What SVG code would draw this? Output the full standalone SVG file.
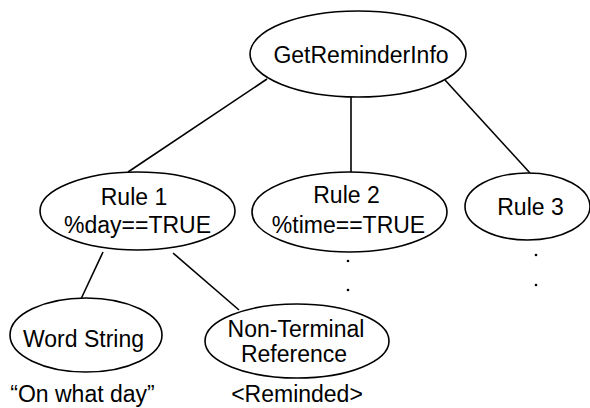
<svg xmlns="http://www.w3.org/2000/svg" width="590" height="408" viewBox="0 0 590 408">
<style>
.n{fill:#fff;stroke:#000;stroke-width:1.6}
.c line{stroke:#000;stroke-width:1.6}
text{font-family:"Liberation Sans",Arial,sans-serif;font-size:23px;fill:#000;text-anchor:middle}
.dot{fill:#000}
</style>
<rect width="590" height="408" fill="#fff"/>
<g id="connectors" class="c">
<line x1="267" y1="79" x2="128" y2="172"/>
<line x1="351" y1="97" x2="351" y2="172"/>
<line x1="445" y1="80" x2="530" y2="173"/>
<line x1="103" y1="252" x2="81" y2="299"/>
<line x1="173" y1="253" x2="239" y2="310"/>
</g>
<g id="getreminderinfo">
<ellipse class="n" cx="358" cy="54" rx="108" ry="43"/>
<text x="361" y="63">GetReminderInfo</text>
</g>
<g id="rule1">
<ellipse class="n" cx="137.5" cy="211" rx="97.5" ry="39"/>
<text x="134" y="205">Rule 1</text>
<text x="137.5" y="233">%day==TRUE</text>
</g>
<g id="rule2">
<ellipse class="n" cx="349.5" cy="212" rx="97.5" ry="40"/>
<text x="346.5" y="203">Rule 2</text>
<text x="348.5" y="233">%time==TRUE</text>
<circle class="dot" cx="348" cy="261" r="1.3"/>
<circle class="dot" cx="348" cy="290" r="1.3"/>
</g>
<g id="rule3">
<ellipse class="n" cx="527.5" cy="206.5" rx="62.5" ry="33.5"/>
<text x="530.5" y="215">Rule 3</text>
<circle class="dot" cx="536" cy="255" r="1.3"/>
<circle class="dot" cx="536" cy="285" r="1.3"/>
</g>
<g id="wordstring">
<ellipse class="n" cx="86" cy="335" rx="76" ry="37"/>
<text x="83.5" y="347">Word String</text>
</g>
<g id="nonterminal">
<ellipse class="n" cx="297" cy="341" rx="92" ry="37"/>
<text x="296" y="337">Non-Terminal</text>
<text x="294" y="362">Reference</text>
</g>
<g id="labels">
<text x="82.5" y="402">“On what day”</text>
<text x="297" y="402">&lt;Reminded&gt;</text>
</g>
</svg>
